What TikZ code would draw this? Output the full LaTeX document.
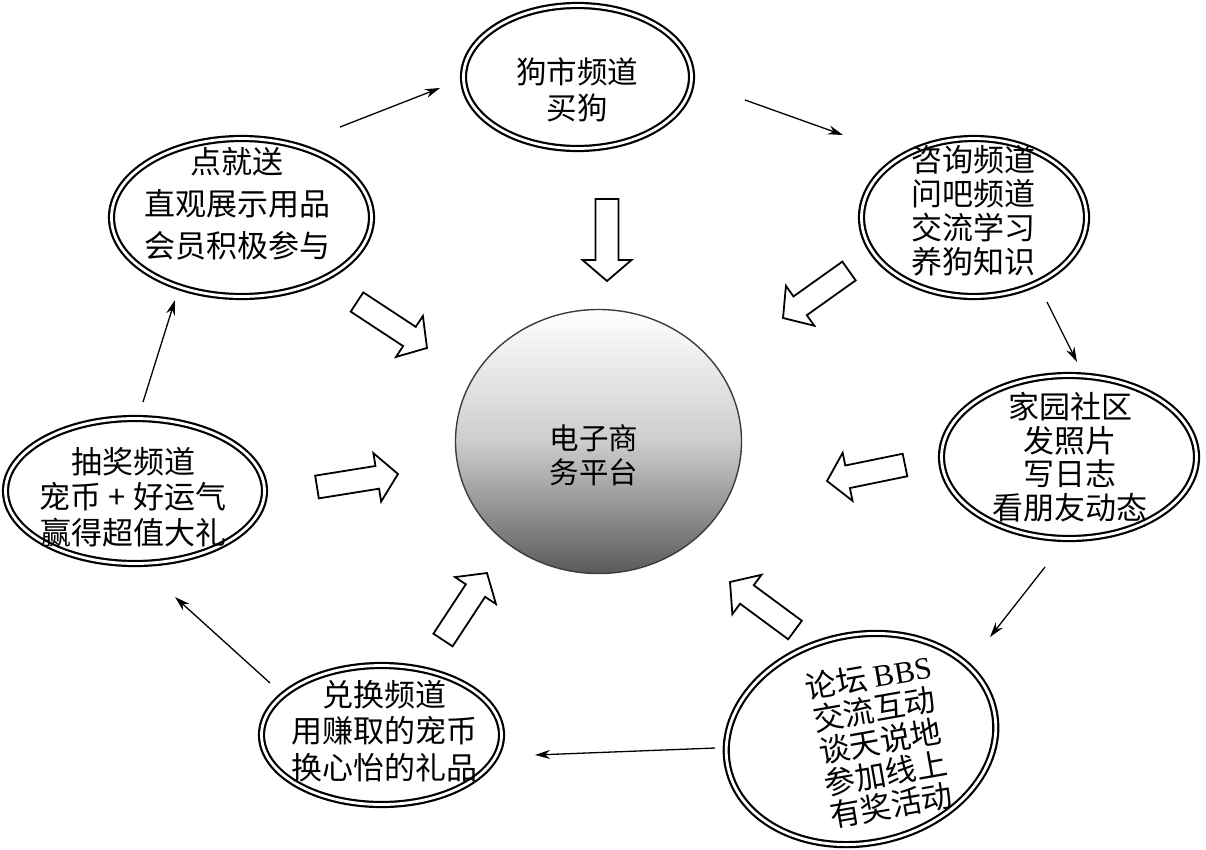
\documentclass[tikz,border=0pt]{standalone}
\usepackage{fontspec}
\setmainfont{Noto Sans CJK SC}
\newfontfamily\latinserif{Liberation Serif}
\usetikzlibrary{shapes.geometric,arrows.meta,calc}

\newcommand\blockarrow[2]{%
  \pgfpointdiff{\pgfpointanchor{#1}{center}}{\pgfpointanchor{#2}{center}}%
  \pgfgetlastxy{\BAx}{\BAy}%
  \pgfmathsetmacro\BAang{atan2(\BAy,\BAx)}%
  \pgfmathsetmacro\BAlen{veclen(\BAx,\BAy)}%
  \begin{scope}[shift={(#1)},rotate=\BAang]
    \draw[hollowarrow] (0,-11.5) -- ({\BAlen-21},-11.5) -- ({\BAlen-21},-24.5)
      -- (\BAlen,0) -- ({\BAlen-21},24.5) -- ({\BAlen-21},11.5) -- (0,11.5) -- cycle;
  \end{scope}}

\tikzset{
  dell/.style={ellipse, draw=black, line width=2.2pt, double=white, double distance=2.8pt, inner sep=0pt},
  lbl/.style={align=center, font=\fontsize{31}{35}\selectfont, inner sep=0pt},
  thinarrow/.style={line width=1.3pt, -{Stealth[length=15pt,width=9pt]}},
  hollowarrow/.style={draw=black, fill=white, line width=1.8pt, line join=miter},
}

\begin{document}
\begin{tikzpicture}[x=1pt,y=-1pt]
\useasboundingbox (0,0) rectangle (1206,849);

% central platform
\node[ellipse, minimum width=286pt, minimum height=264pt, inner sep=0pt,
      top color=white, bottom color={rgb,255:red,90;green,90;blue,90},
      middle color={rgb,255:red,205;green,205;blue,205},
      draw={rgb,255:red,60;green,60;blue,60}, line width=1.4pt] (c) at (598.5,441.5) {};
\node[lbl, font=\fontsize{29.5}{34}\selectfont] (ct) at (594,455) {电子商\\务平台};

% surrounding ellipses
\node[dell, minimum width=228pt, minimum height=143pt] (e1) at (577.5,77) {};
\node[dell, minimum width=225pt, minimum height=158pt] (e2) at (974,217.5) {};
\node[dell, minimum width=255pt, minimum height=163pt] (e3) at (1069,457) {};
\node[dell, minimum width=272pt, minimum height=208pt, rotate=12] (e4) at (861,739) {};
\node[dell, minimum width=240pt, minimum height=139pt] (e5) at (381.5,735) {};
\node[dell, minimum width=259pt, minimum height=145pt] (e6) at (135,491) {};
\node[dell, minimum width=260pt, minimum height=158pt] (e7) at (241.5,217.5) {};

\node[lbl, font=\fontsize{30.5}{36}\selectfont] (t1) at (577,90) {狗市频道\\买狗};
\node[lbl, font=\fontsize{31}{34}\selectfont] (t2) at (973,211) {咨询频道\\问吧频道\\交流学习\\养狗知识};
\node[lbl, font=\fontsize{31}{33.5}\selectfont] (t3) at (1070,457) {家园社区\\发照片\\写日志\\看朋友动态};
\node[lbl, font=\fontsize{31}{32.5}\selectfont, rotate=10] (t4) at (880,741) {论坛 {\latinserif BBS}\\交流互动\\谈天说地\\参加线上\\有奖活动};
\node[lbl, font=\fontsize{31}{36.5}\selectfont] (t5) at (384,731) {兑换频道\\用赚取的宠币\\换心怡的礼品};
\node[lbl, font=\fontsize{31}{35.5}\selectfont] (t6) at (133,497) {抽奖频道\\宠币 + 好运气\\赢得超值大礼};
\node[lbl, font=\fontsize{31}{42}\selectfont] (t7) at (237,204) {点就送\\直观展示用品\\会员积极参与};

% thin cycle arrows
\coordinate (a1s) at (340,127);  \coordinate (a1e) at (440,88);
\coordinate (a2s) at (745,100);  \coordinate (a2e) at (843,135);
\coordinate (a3s) at (1047,302); \coordinate (a3e) at (1077,362);
\coordinate (a4s) at (1045,567); \coordinate (a4e) at (990,637);
\coordinate (a5s) at (715,748);  \coordinate (a5e) at (535,755);
\coordinate (a6s) at (270,683);  \coordinate (a6e) at (175,597);
\coordinate (a7s) at (143,402);  \coordinate (a7e) at (175,300);
\foreach \i in {1,...,7} { \draw[thinarrow] (a\i s) -- (a\i e); }

% hollow block arrows towards the centre
\coordinate (b1s) at (607,199);  \coordinate (b1e) at (607,281);
\coordinate (b2s) at (849,271);  \coordinate (b2e) at (783,318);
\coordinate (b3s) at (905,465);  \coordinate (b3e) at (827,481);
\coordinate (b4s) at (795,630);  \coordinate (b4e) at (730,582);
\coordinate (b5s) at (443,640);  \coordinate (b5e) at (487,573);
\coordinate (b6s) at (317,487);  \coordinate (b6e) at (398,474);
\coordinate (b7s) at (357,302);  \coordinate (b7e) at (427,348);
\blockarrow{b1s}{b1e}
\blockarrow{b2s}{b2e}
\blockarrow{b3s}{b3e}
\blockarrow{b4s}{b4e}
\blockarrow{b5s}{b5e}
\blockarrow{b6s}{b6e}
\blockarrow{b7s}{b7e}
\end{tikzpicture}
\end{document}
